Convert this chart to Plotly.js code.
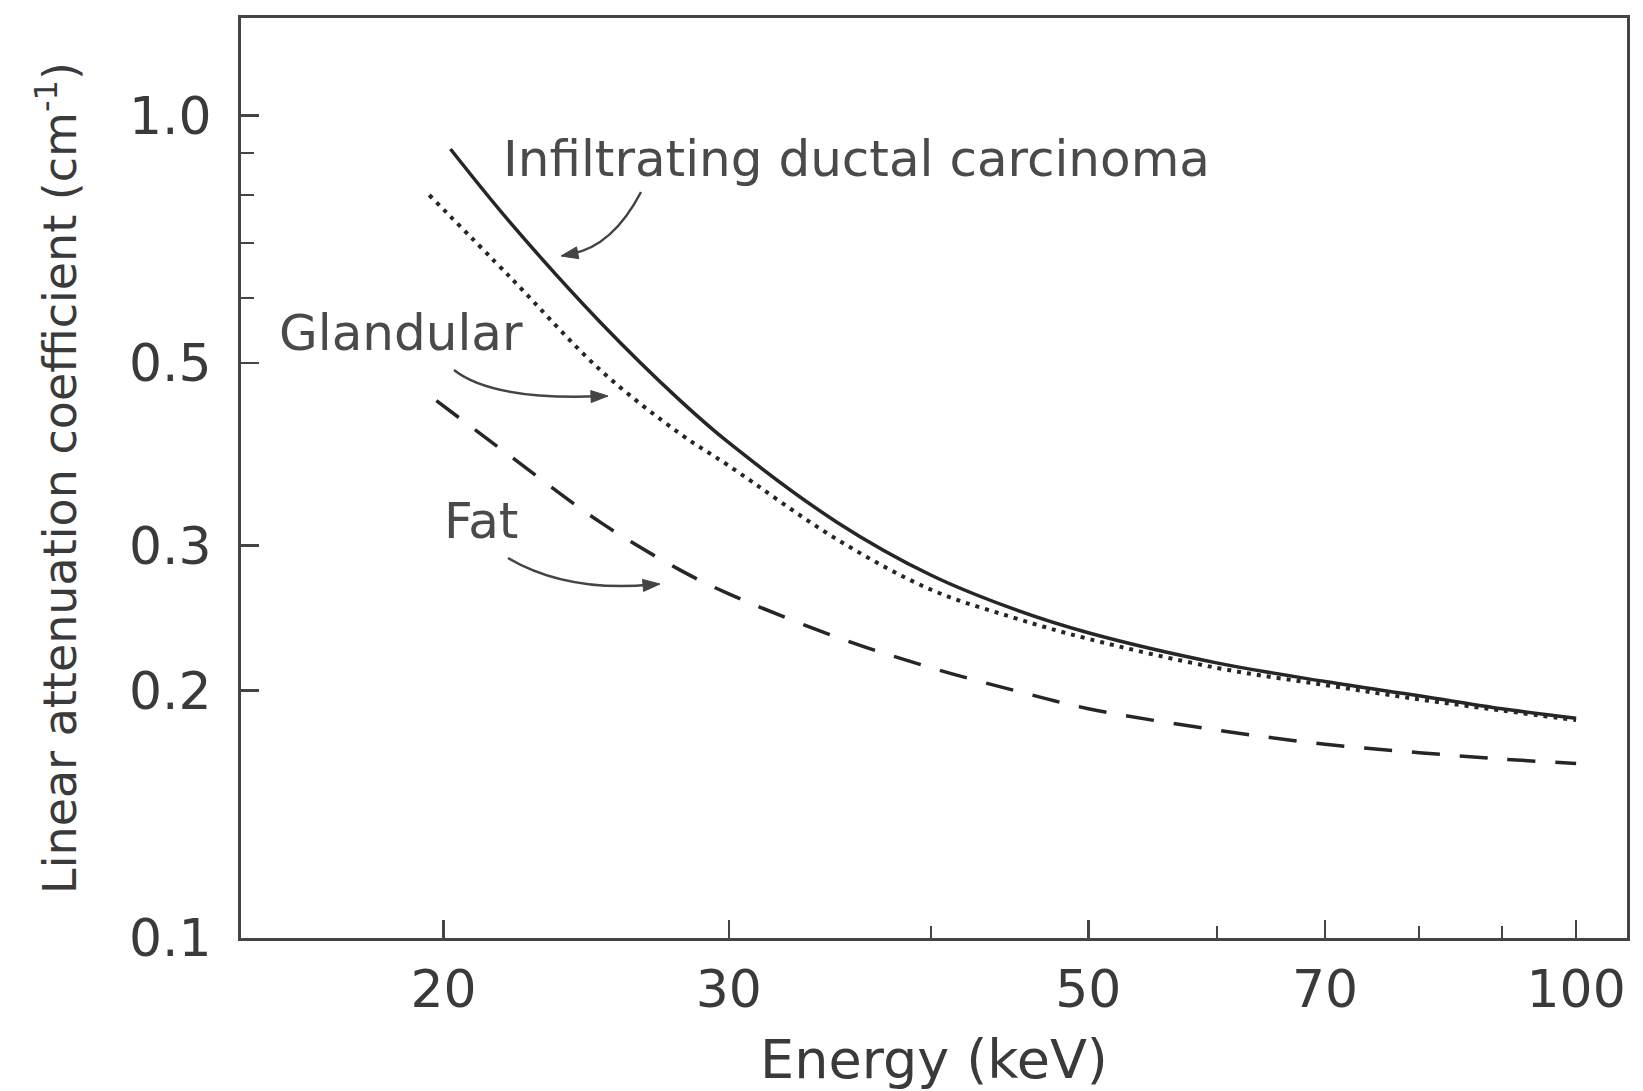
<!DOCTYPE html>
<html><head><meta charset="utf-8">
<script src="https://cdn.plot.ly/plotly-3.0.1.min.js"></script>
<style>html,body{margin:0;padding:0;background:#fff;} #chart{width:1643px;height:1091px;}</style>
</head><body><div id="chart"></div>
<script>
// Data
const energyCarcinoma = [20.2, 22, 25, 28, 30, 35, 40, 45, 50, 60, 70, 80, 90, 100];
const carcinoma = [0.91, 0.74, 0.56, 0.45, 0.40, 0.32, 0.276, 0.251, 0.235, 0.216, 0.205, 0.197, 0.19, 0.185];
const energyGlandular = [19.6, 22, 25, 28, 30, 35, 40, 45, 50, 60, 70, 80, 90, 100];
const glandular = [0.80, 0.635, 0.49, 0.41, 0.375, 0.305, 0.265, 0.245, 0.231, 0.213, 0.203, 0.195, 0.189, 0.184];
const energyFat = [19.8, 22, 25, 28, 30, 35, 40, 45, 50, 60, 70, 80, 90, 100];
const fat = [0.45, 0.385, 0.32, 0.28, 0.262, 0.232, 0.213, 0.2, 0.19, 0.179, 0.172, 0.168, 0.165, 0.163];

const xTickVals = [20, 30, 50, 70, 100];
const xTickText = ['20', '30', '50', '70', '100'];
const xMinorVals = [40, 60, 80, 90];
const yTickVals = [0.1, 0.2, 0.3, 0.5, 1.0];
const yTickText = ['0.1', '0.2', '0.3', '0.5', '1.0'];
const yMinorVals = [0.6, 0.7, 0.8, 0.9];

const labelCarcinoma = 'Infiltrating ductal carcinoma';
const labelGlandular = 'Glandular';
const labelFat = 'Fat';

// Layout geometry
const W = 1643, H = 1091;
const M = {l: 241, r: 16, t: 18, b: 153, pad: 0};
const pw = W - M.l - M.r, ph = H - M.t - M.b;
const toPx = x => (x - M.l) / pw;
const toPy = y => (M.t + ph - y) / ph;

const ink = '#262626';
const textCol = '#3a3a3a';
const font = 'DejaVu Sans, Arial, sans-serif';

const traces = [
  {x: energyCarcinoma, y: carcinoma, mode: 'lines', name: labelCarcinoma,
   line: {color: ink, width: 3.5, dash: 'solid', shape: 'spline', smoothing: 1}},
  {x: energyGlandular, y: glandular, mode: 'lines', name: labelGlandular,
   line: {color: ink, width: 4, dash: '4px,6px', shape: 'spline', smoothing: 1}},
  {x: energyFat, y: fat, mode: 'lines', name: labelFat,
   line: {color: ink, width: 3.5, dash: '28px,20px', shape: 'spline', smoothing: 1}}
];

// curved pointer arrows (pixel positions of the decoration)
const arrowDefs = [
  {s: [641, 192], c: [613, 246], e: [561, 256]},
  {s: [454, 370], c: [492, 400], e: [608, 396]},
  {s: [508, 558], c: [566, 592], e: [660, 584]}
];
const shapes = [];
arrowDefs.forEach(a => {
  const dx = a.e[0] - a.c[0], dy = a.e[1] - a.c[1];
  const n = Math.hypot(dx, dy), ux = dx / n, uy = dy / n;
  const L = 17, hw = 6;
  const bx = a.e[0] - ux * L, by = a.e[1] - uy * L;
  const ex = a.e[0] - ux * L * 0.6, ey = a.e[1] - uy * L * 0.6;
  shapes.push({type: 'path', xref: 'paper', yref: 'paper',
    path: `M${toPx(a.s[0])},${toPy(a.s[1])} Q${toPx(a.c[0])},${toPy(a.c[1])} ${toPx(ex)},${toPy(ey)}`,
    line: {color: '#444', width: 2.5}});
  shapes.push({type: 'path', xref: 'paper', yref: 'paper',
    path: `M${toPx(a.e[0])},${toPy(a.e[1])} L${toPx(bx - uy * hw)},${toPy(by + ux * hw)} L${toPx(bx + uy * hw)},${toPy(by - ux * hw)} Z`,
    fillcolor: '#444', line: {color: '#444', width: 1}});
});

const annFont = {family: font, size: 50, color: '#4a4a4a'};
const annotations = [
  {text: labelCarcinoma, xref: 'paper', yref: 'paper', x: toPx(856), y: toPy(159), xanchor: 'center', yanchor: 'middle', showarrow: false, font: annFont},
  {text: labelGlandular, xref: 'paper', yref: 'paper', x: toPx(401), y: toPy(333), xanchor: 'center', yanchor: 'middle', showarrow: false, font: annFont},
  {text: labelFat, xref: 'paper', yref: 'paper', x: toPx(481), y: toPy(521), xanchor: 'center', yanchor: 'middle', showarrow: false, font: annFont}
];

const axisCommon = {
  type: 'log', showgrid: false, zeroline: false,
  showline: true, linewidth: 3, linecolor: '#444', mirror: true,
  ticks: 'inside', ticklen: 18, tickwidth: 2.5, tickcolor: '#444',
  tickmode: 'array',
  tickfont: {family: font, size: 52, color: textCol}
};

const layout = {
  width: W, height: H, margin: M,
  paper_bgcolor: '#fff', plot_bgcolor: '#fff',
  showlegend: false,
  font: {family: font, color: textCol},
  xaxis: Object.assign({}, axisCommon, {
    range: [Math.log10(15), Math.log10(107.5)],
    tickvals: xTickVals, ticktext: xTickText,
    ticklabelstandoff: 4,
    minor: {tickmode: 'array', tickvals: xMinorVals, ticks: 'inside', ticklen: 12, tickwidth: 2, tickcolor: '#444', showgrid: false},
    title: {text: 'Energy (keV)', font: {family: font, size: 54, color: textCol}, standoff: 24}
  }),
  yaxis: Object.assign({}, axisCommon, {
    range: [-1, Math.log10(1.313)],
    tickvals: yTickVals, ticktext: yTickText,
    ticklabelstandoff: 16,
    minor: {tickmode: 'array', tickvals: yMinorVals, ticks: 'inside', ticklen: 13, tickwidth: 2, tickcolor: '#444', showgrid: false},
    title: {text: 'Linear attenuation coefficient (cm<sup>-1</sup>)', font: {family: font, size: 46, color: textCol}, standoff: 38}
  }),
  shapes: shapes,
  annotations: annotations
};

Plotly.newPlot('chart', traces, layout, {displayModeBar: false, staticPlot: true});
</script>
</body></html>
